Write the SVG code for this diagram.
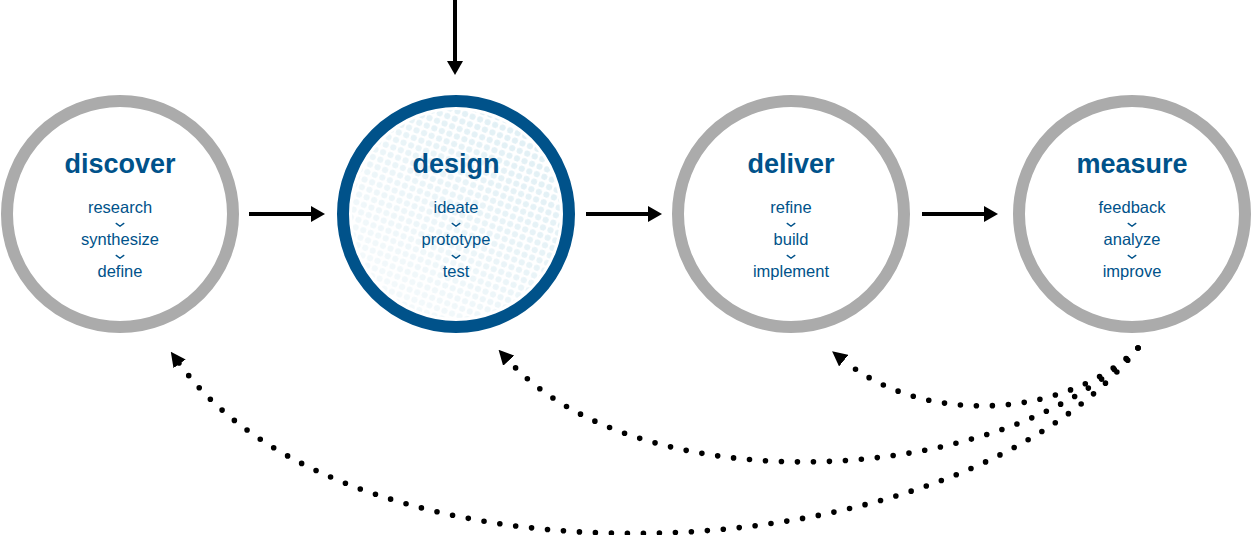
<svg xmlns="http://www.w3.org/2000/svg" width="1252" height="535" viewBox="0 0 1252 535">
<style>
.ring{fill:#ffffff;stroke:#ababab;stroke-width:12}
.ring-active{fill:none;stroke:#00528a;stroke-width:12}
.title{font-family:"Liberation Sans",Arial,sans-serif;font-weight:bold;font-size:27px;fill:#00528a;text-anchor:middle}
.item{font-family:"Liberation Sans",Arial,sans-serif;font-size:16.5px;fill:#00528a;text-anchor:middle}
.chev{fill:none;stroke:#00528a;stroke-width:1.4;stroke-linecap:round;stroke-linejoin:round}
.flow{stroke:#000;stroke-width:4;fill:none}
.loop{stroke:#000;stroke-width:5.6;fill:none;stroke-linecap:round;stroke-dasharray:0 16}
</style>
<defs>
<marker id="ah" markerUnits="userSpaceOnUse" viewBox="0 0 14 16" refX="1" refY="8" markerWidth="14" markerHeight="16" orient="auto">
<path d="M0,0 L14,8 L0,16 Z" fill="#000"/>
</marker>
<marker id="ahd" markerUnits="userSpaceOnUse" viewBox="0 0 15 15" refX="1" refY="7.5" markerWidth="15" markerHeight="15" orient="auto">
<path d="M0,0 L15,7.5 L0,15 Z" fill="#000"/>
</marker>
<polyline id="chv" class="chev" points="-3.8,-1.6 0,1.3 3.8,-1.6"/>
<pattern id="dots" patternUnits="userSpaceOnUse" width="8" height="8" patternTransform="rotate(20)">
<circle cx="4" cy="4" r="3.1" fill="#dcedf3"/>
</pattern>
<linearGradient id="fade" x1="0" y1="1" x2="1" y2="0">
<stop offset="0" stop-color="#fff" stop-opacity="0.15"/>
<stop offset="0.5" stop-color="#fff" stop-opacity="0.6"/>
<stop offset="1" stop-color="#fff" stop-opacity="1"/>
</linearGradient>
<mask id="fm" maskContentUnits="userSpaceOnUse">
<rect x="340" y="100" width="235" height="230" fill="url(#fade)"/>
</mask>
</defs>

<g id="connectors">
<line class="flow" x1="455" y1="0" x2="455" y2="62" marker-end="url(#ah)"/>
<line class="flow" x1="249" y1="214" x2="312" y2="214" marker-end="url(#ah)"/>
<line class="flow" x1="586" y1="214" x2="649" y2="214" marker-end="url(#ah)"/>
<line class="flow" x1="922" y1="214" x2="985" y2="214" marker-end="url(#ah)"/>
<path class="loop" d="M1138,348 C1070,415 930,430 843,360" marker-end="url(#ahd)"/>
<path class="loop" d="M1138,348 C1000,490 640,505 508,360" marker-end="url(#ahd)"/>
<path class="loop" d="M1138,348 C950,585 350,600 179,363" marker-end="url(#ahd)"/>
</g>

<g id="discover">
<circle class="ring" cx="120" cy="214" r="113"/>
<text class="title" x="120" y="173">discover</text>
<text class="item" x="120" y="213">research</text>
<use href="#chv" x="120" y="225"/>
<text class="item" x="120" y="245">synthesize</text>
<use href="#chv" x="120" y="257"/>
<text class="item" x="120" y="277">define</text>
</g>

<g id="design">
<circle cx="456" cy="214" r="107" fill="#fff"/>
<circle cx="456" cy="214" r="104" fill="url(#dots)" mask="url(#fm)"/>
<circle class="ring-active" cx="456" cy="214" r="113"/>
<text class="title" x="456" y="173">design</text>
<text class="item" x="456" y="213">ideate</text>
<use href="#chv" x="456" y="225"/>
<text class="item" x="456" y="245">prototype</text>
<use href="#chv" x="456" y="257"/>
<text class="item" x="456" y="277">test</text>
</g>

<g id="deliver">
<circle class="ring" cx="791" cy="214" r="113"/>
<text class="title" x="791" y="173">deliver</text>
<text class="item" x="791" y="213">refine</text>
<use href="#chv" x="791" y="225"/>
<text class="item" x="791" y="245">build</text>
<use href="#chv" x="791" y="257"/>
<text class="item" x="791" y="277">implement</text>
</g>

<g id="measure">
<circle class="ring" cx="1132" cy="214" r="113"/>
<text class="title" x="1132" y="173">measure</text>
<text class="item" x="1132" y="213">feedback</text>
<use href="#chv" x="1132" y="225"/>
<text class="item" x="1132" y="245">analyze</text>
<use href="#chv" x="1132" y="257"/>
<text class="item" x="1132" y="277">improve</text>
</g>
</svg>
